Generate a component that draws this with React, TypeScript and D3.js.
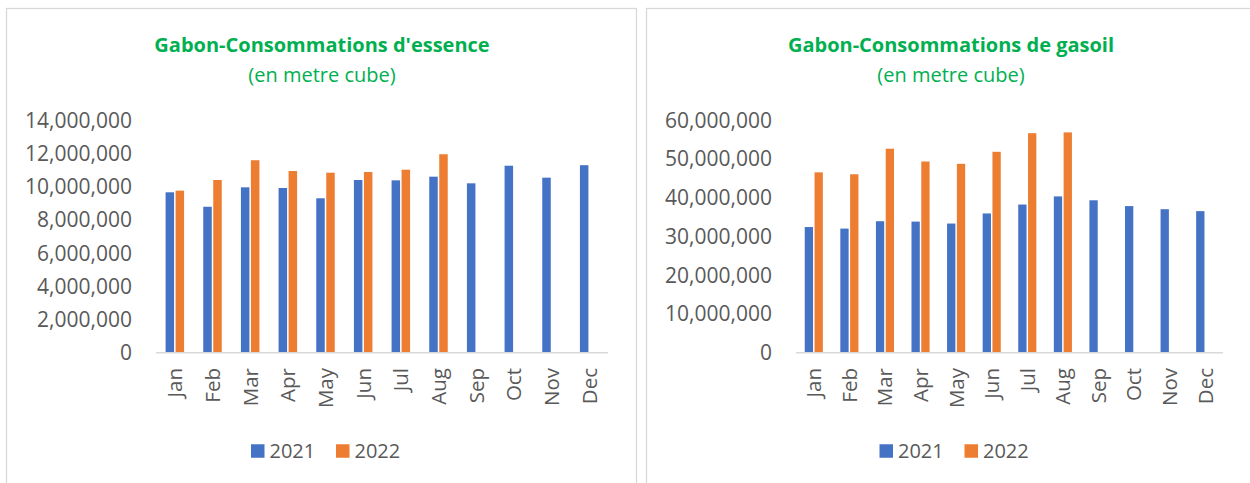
import React from "react";
import * as d3 from "d3";

const months = ["Jan", "Feb", "Mar", "Apr", "May", "Jun", "Jul", "Aug", "Sep", "Oct", "Nov", "Dec"];
const seriesNames = ["2021", "2022"];
const seriesColors = ["#4472C4", "#ED7D31"];

const essence2021 = [9650000, 8780000, 9950000, 9910000, 9290000, 10390000, 10370000, 10590000, 10190000, 11250000, 10530000, 11280000];
const essence2022 = [9750000, 10390000, 11580000, 10930000, 10830000, 10870000, 11010000, 11940000, null, null, null, null];
const essenceTicks = [0, 2000000, 4000000, 6000000, 8000000, 10000000, 12000000, 14000000];

const gasoil2021 = [32400000, 32000000, 33900000, 33800000, 33300000, 35900000, 38200000, 40300000, 39300000, 37800000, 37000000, 36500000];
const gasoil2022 = [46500000, 46000000, 52600000, 49300000, 48700000, 51800000, 56600000, 56800000, null, null, null, null];
const gasoilTicks = [0, 10000000, 20000000, 30000000, 40000000, 50000000, 60000000];

const FONT = "'Open Sans', 'Noto Sans', sans-serif";
const GREEN = "#00B050";
const TEXT = "#595959";
const GRID = "#D9D9D9";

type PanelProps = {
  title: string;
  s2021: (number | null)[];
  s2022: (number | null)[];
  ticks: number[];
  panelX: number;
  panelW: number;
  plotX0: number;
  plotX1: number;
  tickRight: number;
  titleCx: number;
  legendCx: number;
  barW: number;
  barGap: number;
};

const fmt = d3.format(",");

function Panel(p: PanelProps) {
  const yTop = 120;
  const yBottom = 352.7;
  const y = d3.scaleLinear().domain([0, p.ticks[p.ticks.length - 1]]).range([yBottom, yTop]);
  const x = d3.scaleBand<string>().domain(months).range([p.plotX0, p.plotX1]);
  const inner = d3
    .scaleBand<string>()
    .domain(seriesNames)
    .range([0, p.barW * 2 + p.barGap])
    .paddingInner(p.barGap / (p.barW + p.barGap));
  const groupW = p.barW * 2 + p.barGap;
  const series = [p.s2021, p.s2022];

  const sq = 13.5;
  const legendItems = [
    { name: seriesNames[0], color: seriesColors[0], dx: -75 },
    { name: seriesNames[1], color: seriesColors[1], dx: 10 },
  ];

  return (
    <g>
      <rect x={p.panelX} y={8.5} width={p.panelW} height={500} fill="#fff" stroke={GRID} strokeWidth={1.3} />
      <text x={p.titleCx} y={52} textAnchor="middle" fontFamily={FONT} fontWeight={700} fontSize={20} fill={GREEN}>
        {p.title}
      </text>
      <text x={p.titleCx} y={81.5} textAnchor="middle" fontFamily={FONT} fontSize={20} fill={GREEN}>
        (en metre cube)
      </text>
      {p.ticks.map((t) => (
        <text key={t} x={p.tickRight} y={y(t)} dy="0.36em" textAnchor="end" fontFamily={FONT} fontSize={21} fill={TEXT}>
          {fmt(t)}
        </text>
      ))}
      {months.map((m, i) => {
        const c = (x(m) as number) + x.bandwidth() / 2;
        return (
          <g key={m}>
            {series.map((s, si) => {
              const v = s[i];
              if (v == null) return null;
              const bx = c - groupW / 2 + (inner(seriesNames[si]) as number);
              return (
                <rect key={si} x={bx} y={y(v)} width={inner.bandwidth()} height={yBottom - y(v)} fill={seriesColors[si]} />
              );
            })}
            <text
              transform={`translate(${c},368) rotate(-90)`}
              dy="0.36em"
              textAnchor="end"
              fontFamily={FONT}
              fontSize={20.5}
              fill={TEXT}
            >
              {m}
            </text>
          </g>
        );
      })}
      <line x1={p.plotX0} x2={p.plotX1} y1={yBottom} y2={yBottom} stroke={GRID} strokeWidth={1.5} />
      {legendItems.map((it) => (
        <g key={it.name} transform={`translate(${p.legendCx + it.dx},451)`}>
          <rect x={0} y={-sq / 2} width={sq} height={sq} fill={it.color} />
          <text x={sq + 5} y={0} dy="0.36em" fontFamily={FONT} fontSize={20} fill={TEXT}>
            {it.name}
          </text>
        </g>
      ))}
    </g>
  );
}

export default function App() {
  return (
    <svg
      width={1250}
      height={483}
      style={{ position: "absolute", left: 0, top: 0, background: "#fff" }}
    >
      <rect x={0} y={0} width={1250} height={483} fill="#fff" />
      <Panel
        title="Gabon-Consommations d'essence"
        s2021={essence2021}
        s2022={essence2022}
        ticks={essenceTicks}
        panelX={6.5}
        panelW={630}
        plotX0={156}
        plotX1={608}
        tickRight={132}
        titleCx={322}
        legendCx={326}
        barW={8.5}
        barGap={1.5}
      />
      <Panel
        title="Gabon-Consommations de gasoil"
        s2021={gasoil2021}
        s2022={gasoil2022}
        ticks={gasoilTicks}
        panelX={646.5}
        panelW={620}
        plotX0={796}
        plotX1={1223}
        tickRight={772}
        titleCx={951}
        legendCx={954.5}
        barW={8.3}
        barGap={1.5}
      />
    </svg>
  );
}
